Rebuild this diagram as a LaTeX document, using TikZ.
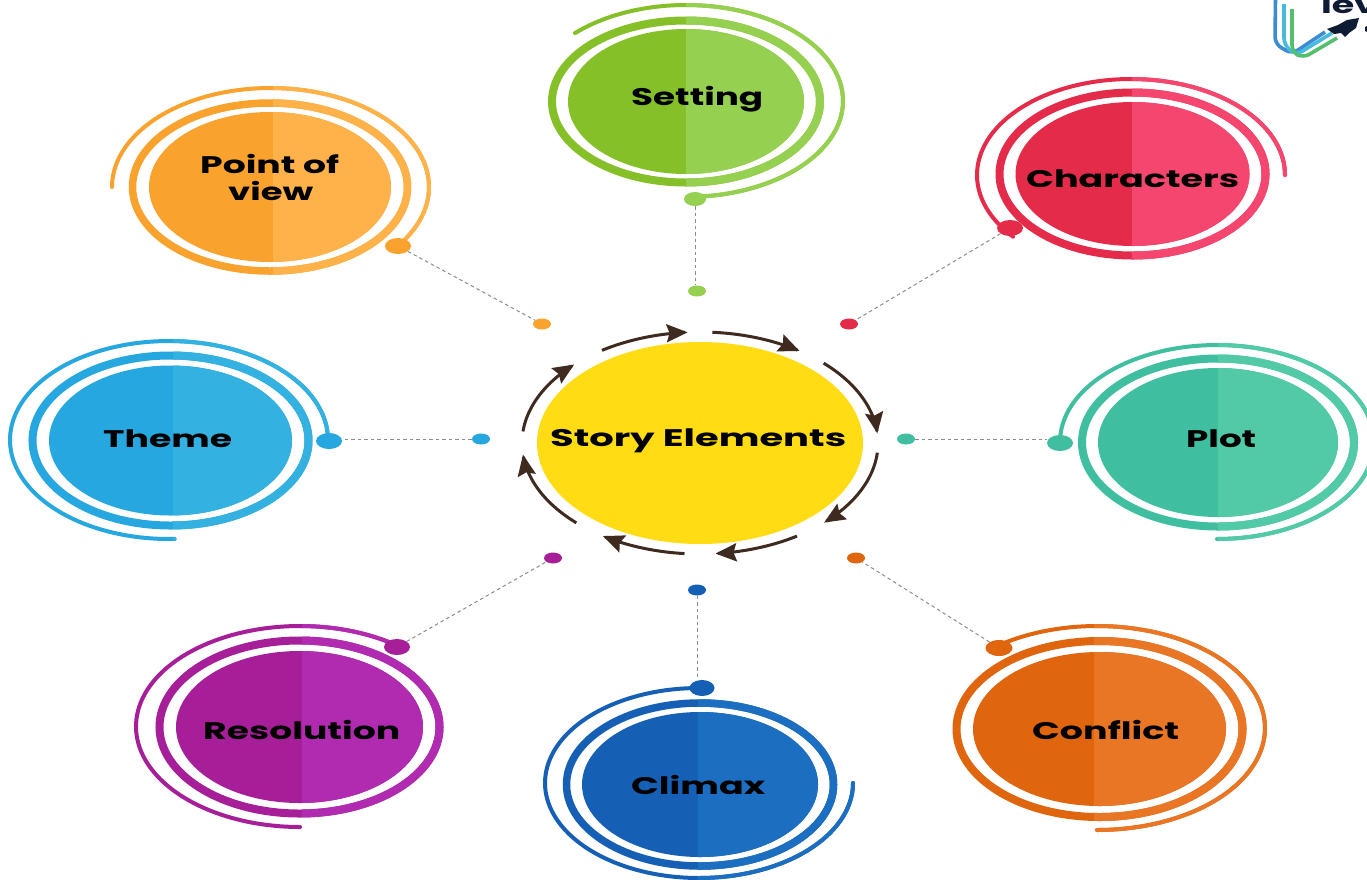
\documentclass[tikz,border=0pt]{standalone}
\usepackage{fontspec}
\setmainfont{Poppins}
\usetikzlibrary{arrows.meta,shapes.geometric}
\definecolor{sd}{HTML}{86C028}\definecolor{sl}{HTML}{96D050}
\definecolor{pd}{HTML}{FAA22E}\definecolor{pl}{HTML}{FFB24A}
\definecolor{cd}{HTML}{E42C4A}\definecolor{cl}{HTML}{F5466F}
\definecolor{td}{HTML}{27A7E0}\definecolor{tl}{HTML}{33B1E0}
\definecolor{ld}{HTML}{3FBFA0}\definecolor{ll}{HTML}{52CAA7}
\definecolor{rd}{HTML}{A71F98}\definecolor{rl}{HTML}{B12BB1}
\definecolor{xd}{HTML}{1560B5}\definecolor{xl}{HTML}{1C6FC0}
\definecolor{fd}{HTML}{E0650F}\definecolor{fl}{HTML}{E97625}
\definecolor{sun}{HTML}{FFDC14}
\definecolor{bark}{HTML}{3E2A1E}
\definecolor{navy}{HTML}{0F1B33}
\definecolor{lgblue}{HTML}{3D8BD0}\definecolor{lgcyan}{HTML}{45BBDD}\definecolor{lggreen}{HTML}{55BF70}
\tikzset{
  bigdot/.style={ellipse,inner sep=0pt,minimum width=24pt,minimum height=16pt},
  smalldot/.style={ellipse,inner sep=0pt,minimum width=18pt,minimum height=11pt},
  link/.style={draw=black!45,line width=1pt,dash pattern=on 3.5pt off 3pt},
  lab/.style={anchor=base west,inner sep=0pt,font=\fontsize{24}{28}\selectfont\bfseries,text=black},
  swirl/.style={line width=4pt,line cap=round},
  loopa/.style={draw=bark,line width=3pt,-{Stealth[length=21pt,width=18pt,inset=3pt]}},
  logoline/.style={line width=3.6pt,rounded corners=7pt}
}
\newcommand{\wlab}[2]{\resizebox{#1pt}{\height}{#2}}
\begin{document}
\begin{tikzpicture}[x=1pt,y=-1pt]
\useasboundingbox (0,0) rectangle (1367,879);
\fill[white] (0,0) rectangle (1367,879);
\begin{scope}
\clip (0,0) rectangle (1367,879);
% logo
\draw[logoline,lgblue] (1275.5,-3) -- (1275,44) -- (1292,54) -- (1325,32);
\draw[logoline,lgcyan] (1284,4) -- (1284,45) -- (1296,55) -- (1332,33);
\draw[logoline,lggreen] (1292,9) -- (1292,52) -- (1303,58) -- (1337,38);
\fill[navy] (1327,29) -- (1338,25) -- (1347,20) -- (1359,18) -- (1356,28) -- (1349,33) -- (1345,37) -- (1341,33) -- (1334,34) -- cycle;
\fill[navy] (1365,27) -- (1367,26) -- (1367,32) -- (1365,31) -- cycle;
\node[anchor=base west,inner sep=0pt,font=\fontsize{24}{28}\selectfont\bfseries,text=navy] (logotext) at (1321,13) {\wlab{56}{lev}};
% elements
\foreach \Cx/\Cy/\Rx/\Ry/\Sp/\Dk/\Lt/\Rr/\Rs/\Rw/\Ax/\Ay/\Bx/\By/\Fr/\To in {
  686/101.5/118/72.5/686/sd/sl/134/81/8/686/101/157/96/-135/85,
  270/187/121/75/273/pd/pl/137.5/84/7.5/270.5/187/158.5/99/180/396.5,
  1132.5/174/117/72/1132/cd/cl/133/81.5/8/1131/175/154/96/140/360,
  170.5/440.5/121.5/75/173/td/tl/138/85/8/169/440/159/99/88/360,
  1218/442.5/120/74.5/1218/ld/ll/136/84/8/1217/442/157/97/180/450,
  299.5/727/123.5/76/302/rd/rl/140/86.5/8/300/726.5/164/100.5/90/306,
  700/784.5/118/72.5/698/xd/xl/133.5/81.5/7.5/699/783/154/95/0/268,
  1099.5/729/126.5/77/1094/fd/fl/143/88/8/1097/728/168/102/234/450%
}{
  \foreach \Cc/\Lf in {\Dk/0,\Lt/\Sp}{
    \begin{scope}
      \clip (\Lf,0) rectangle (1367,879);
      \draw[swirl,\Cc] plot[domain=\Fr:\To,samples=90,smooth] ({\Ax+\Bx*cos(\x)},{\Ay+\By*sin(\x)});
      \draw[\Cc,line width=\Rw pt] (\Cx,\Cy) ellipse [x radius=\Rr pt,y radius=\Rs pt];
      \fill[\Cc] (\Cx,\Cy) ellipse [x radius=\Rx pt,y radius=\Ry pt];
    \end{scope}
  }
}
\end{scope}
% centre
\node[ellipse,inner sep=0pt,fill=sun,minimum width=326pt,minimum height=202pt] (hub) at (700,443) {};
\foreach \Fr/\To in {236.6/266,274/304,314/355,5/45.8,57/85,95/123,134/174,186/225}{
  \draw[loopa] plot[domain=\Fr:\To,samples=30,smooth] ({700+178*cos(\x)},{443+111*sin(\x)});
}
% dots
\node[bigdot,fill=sl,minimum width=22pt,minimum height=14pt] (settingA) at (695,199) {};
\node[smalldot,fill=sl] (settingB) at (697,291) {};
\node[bigdot,fill=pd,minimum width=26pt] (povA) at (398,246) {};
\node[smalldot,fill=pd] (povB) at (542,324) {};
\node[bigdot,fill=cd,minimum width=26pt] (charA) at (1010,228) {};
\node[smalldot,fill=cd] (charB) at (849,324) {};
\node[bigdot,fill=td,minimum width=26pt] (themeA) at (329,441) {};
\node[smalldot,fill=td] (themeB) at (481,439) {};
\node[bigdot,fill=ld,minimum width=26pt] (plotA) at (1060,443) {};
\node[smalldot,fill=ld] (plotB) at (906,439) {};
\node[bigdot,fill=rd,minimum width=26pt] (resA) at (397,647) {};
\node[smalldot,fill=rd] (resB) at (553,558) {};
\node[bigdot,fill=xd,minimum width=25pt] (cliA) at (702,688) {};
\node[smalldot,fill=xd] (cliB) at (697,590) {};
\node[bigdot,fill=fd,minimum width=27pt] (conA) at (999,648) {};
\node[smalldot,fill=fd] (conB) at (856,558) {};
\foreach \p/\q in {povA/povB,charA/charB,resA/resB,conA/conB}{
  \draw[link] (\p) -- (\q);
}
\draw[link] (settingA) -- (settingA |- settingB.north);
\draw[link] (themeB) -- (themeB -| themeA.east);
\draw[link] (plotB) -- (plotB -| plotA.west);
\draw[link] (cliB) -- (cliB |- cliA.north);
% labels
\node[lab] (tHub) at (550,446) {\wlab{296}{Story Elements}};
\node[lab] (tSet) at (631,105) {\wlab{132}{Setting}};
\node[lab] (tPov1) at (200,173) {\wlab{139}{Point of}};
\node[lab] (tPov2) at (228,200) {\wlab{85}{view}};
\node[lab] (tChar) at (1026,187) {\wlab{213}{Characters}};
\node[lab] (tTheme) at (103,447) {\wlab{129}{Theme}};
\node[lab] (tPlot) at (1186,447) {\wlab{70}{Plot}};
\node[lab] (tRes) at (203,739) {\wlab{197}{Resolution}};
\node[lab] (tCli) at (631,794) {\wlab{134}{Climax}};
\node[lab] (tCon) at (1032,739) {\wlab{147}{Conflict}};
\end{tikzpicture}
\end{document}
